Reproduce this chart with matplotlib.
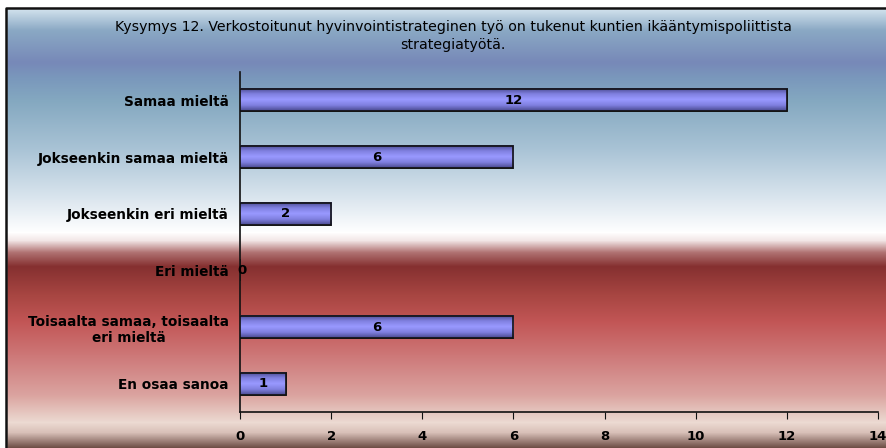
import numpy as np
import matplotlib.pyplot as plt
from matplotlib.colors import LinearSegmentedColormap, to_rgb

categories = ['Samaa mieltä', 'Jokseenkin samaa mieltä', 'Jokseenkin eri mieltä',
              'Eri mieltä', 'Toisaalta samaa, toisaalta\neri mieltä', 'En osaa sanoa']
values = [12, 6, 2, 0, 6, 1]
xticks = [0, 2, 4, 6, 8, 10, 12, 14]
title = 'Kysymys 12. Verkostoitunut hyvinvointistrateginen työ on tukenut kuntien ikääntymispoliittista\nstrategiatyötä.'

W, H = 887, 448
fig = plt.figure(figsize=(W / 100, H / 100), dpi=100)

# background gradient (pixel rows from top)
stops = [(0, '#d4e4ee'), (8, '#d4e4ee'), (30, '#8aa8c4'), (62, '#7789b8'), (78, '#7a98bc'),
         (100, '#84a8c0'), (150, '#aac4d6'), (200, '#dde7ef'), (232, '#ffffff'),
         (240, '#f2e6e6'), (252, '#b07272'), (266, '#853030'), (295, '#a84642'),
         (322, '#c25656'), (355, '#cd7878'), (395, '#dba4a0'), (422, '#ecdad2'),
         (432, '#d8c0b8'), (448, '#684840')]
rows = np.array([to_rgb(c) for _, c in stops])
ys = np.array([p for p, _ in stops])
yy = np.arange(H)
grad = np.stack([np.interp(yy, ys, rows[:, i]) for i in range(3)], axis=1)
img = np.repeat(grad[:, None, :], 2, axis=1)
bg = fig.add_axes([0, 0, 1, 1], zorder=-5)
bg.imshow(img, aspect='auto', extent=[0, W, H, 0])
bg.add_patch(plt.Rectangle((0, 0), W, 8, color='white'))
bg.add_patch(plt.Rectangle((0, 0), 6, H, color='white'))
bg.plot([6.5, 6.5, W], [H, 8.5, 8.5], color='#111111', lw=1.8)
bg.set_xlim(0, W)
bg.set_ylim(H, 0)
bg.axis('off')

ax = fig.add_axes([240 / W, 1 - 412 / H, (878 - 240) / W, (412 - 72) / H])
ax.patch.set_alpha(0)
pos = np.arange(len(categories))
bars = ax.barh(pos, values, height=0.39, color='#9090f0', edgecolor='#111111', lw=1.2, zorder=3)

# vertical shading inside bars
shade = LinearSegmentedColormap.from_list('s', ['#4a4a90', '#8080e0', '#9999ff', '#8080e0', '#4a4a90'])
for b in bars:
    if b.get_width() > 0:
        x0, y0, w, h = b.get_x(), b.get_y(), b.get_width(), b.get_height()
        ax.imshow(np.linspace(0, 1, 50)[:, None], cmap=shade, aspect='auto',
                  extent=[x0, x0 + w, y0, y0 + h], zorder=3.5, interpolation='bilinear')
        ax.add_patch(plt.Rectangle((x0, y0), w, h, fill=False, ec='#111111', lw=1.2, zorder=4))

for p, v in zip(pos, values):
    x = v / 2 if v > 0 else 0.05
    ax.text(x, p, str(v), ha='center', va='center', fontsize=9.5, fontweight='bold', zorder=5)

ax.set_xlim(0, 14)
ax.set_ylim(len(categories) - 0.5, -0.5)
ax.set_xticks(xticks)
ax.set_xticklabels([str(t) for t in xticks], fontsize=9.5, fontweight='bold')
ax.set_yticks(pos)
ax.set_yticklabels(categories, fontsize=9.8, fontweight='bold', multialignment='center')
ax.tick_params(axis='y', length=0, pad=8)
ax.tick_params(axis='x', length=5, direction='out', color='#111111', pad=8)
for s in ['top', 'right']:
    ax.spines[s].set_visible(False)
for s in ['left', 'bottom']:
    ax.spines[s].set_color('#111111')
    ax.spines[s].set_linewidth(1.2)

fig.text(453 / W, 1 - 36 / H, title, ha='center', va='center', fontsize=10.2,
         linespacing=1.35)

fig.savefig('out.png', dpi=100)
